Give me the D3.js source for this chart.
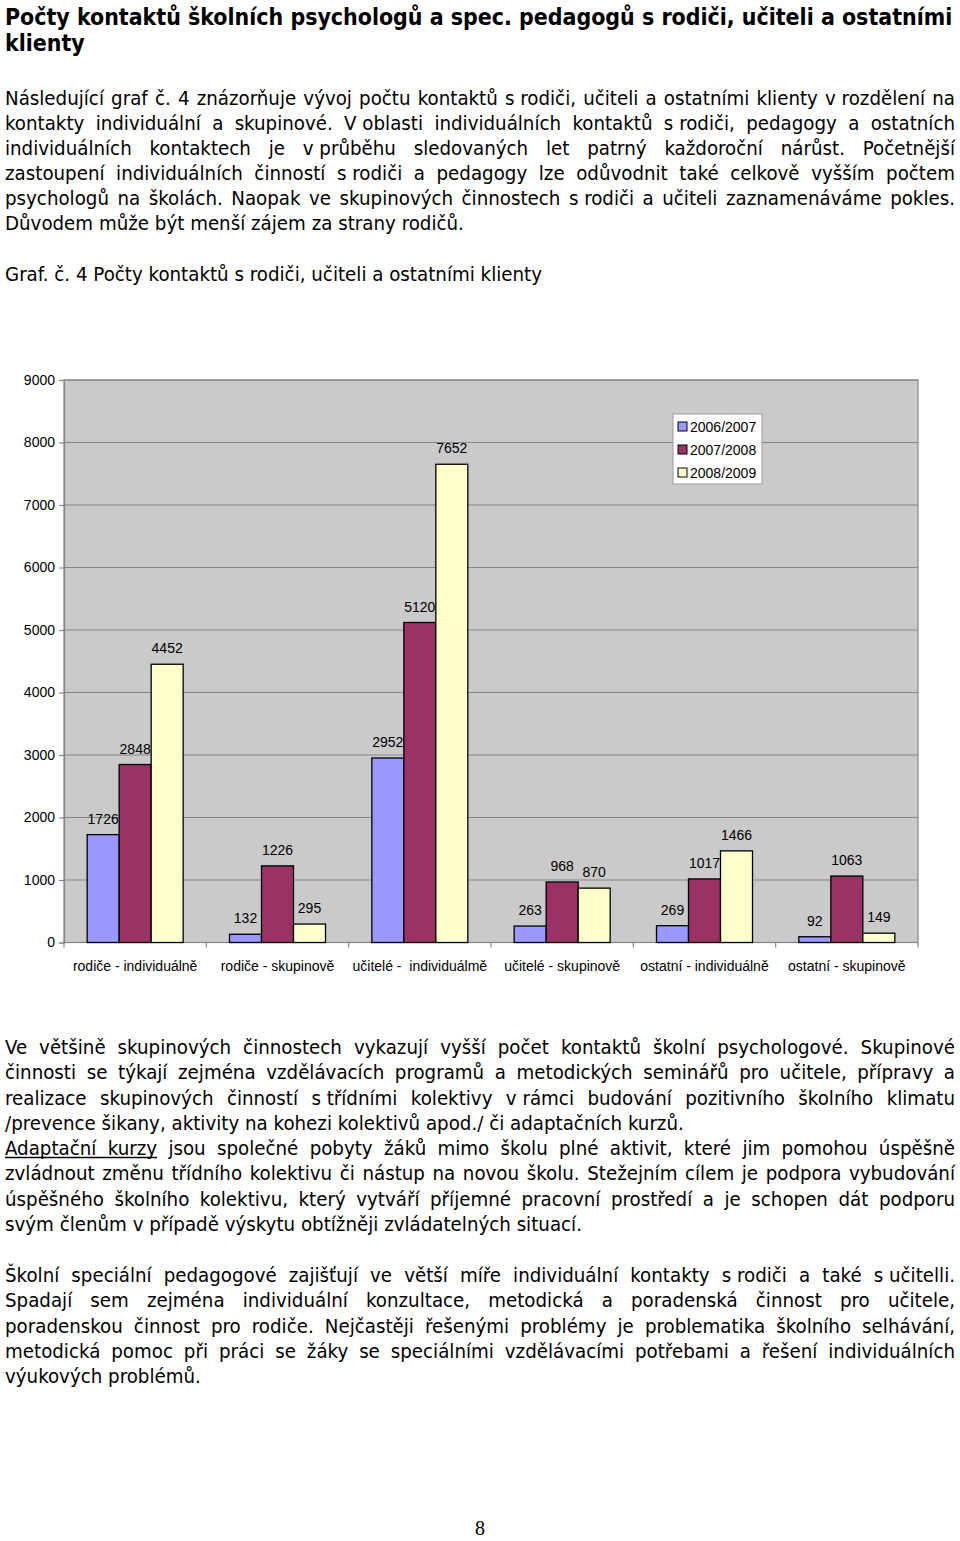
<!DOCTYPE html>
<html><head><meta charset="utf-8">
<script src="https://cdn.jsdelivr.net/npm/d3@7"></script>
<style>
html,body{margin:0;padding:0;background:#fff;}
svg{display:block;}
</style></head><body>
<svg id="page" width="960" height="1541"></svg>
<script>
// ---------- DATA ----------
const categories = ["rodiče - individuálně", "rodiče - skupinově", "učitelé -  individuálmě", "učitelé - skupinově", "ostatní - individuálně", "ostatní - skupinově"];
const seriesNames = ["2006/2007", "2007/2008", "2008/2009"];
const values0607 = [1726, 132, 2952, 263, 269, 92];
const values0708 = [2848, 1226, 5120, 968, 1017, 1063];
const values0809 = [4452, 295, 7652, 870, 1466, 149];
const yTicks = [0, 1000, 2000, 3000, 4000, 5000, 6000, 7000, 8000, 9000];
const seriesColors = ["#9999ff", "#993366", "#ffffcc"];

const titleLines = [
  "Počty kontaktů školních psychologů a spec. pedagogů s rodiči, učiteli a ostatními",
  "klienty"
];
const para1 = [
  "Následující graf č. 4 znázorňuje vývoj počtu kontaktů s\u00a0rodiči, učiteli a ostatními klienty v\u00a0rozdělení na",
  "kontakty individuální a skupinové. V\u00a0oblasti individuálních kontaktů s\u00a0rodiči, pedagogy a ostatních",
  "individuálních kontaktech je v\u00a0průběhu sledovaných let patrný každoroční nárůst. Početnější",
  "zastoupení individuálních činností s\u00a0rodiči a pedagogy lze odůvodnit také celkově vyšším počtem",
  "psychologů na školách. Naopak ve skupinových činnostech s\u00a0rodiči a učiteli zaznamenáváme pokles.",
  "Důvodem může být menší zájem za strany rodičů."
];
const chartCaption = "Graf. č. 4 Počty kontaktů s rodiči, učiteli a ostatními klienty";
const para2 = [
  "Ve většině skupinových činnostech vykazují vyšší počet kontaktů školní psychologové. Skupinové",
  "činnosti se týkají zejména vzdělávacích programů a metodických seminářů pro učitele, přípravy a",
  "realizace skupinových činností s\u00a0třídními kolektivy v\u00a0rámci budování pozitivního školního klimatu",
  "/prevence šikany, aktivity na kohezi kolektivů apod./ či adaptačních kurzů.",
  "Adaptační kurzy jsou společné pobyty žáků mimo školu plné aktivit, které jim pomohou úspěšně",
  "zvládnout změnu třídního kolektivu či nástup na novou školu. Stežejním cílem je podpora vybudování",
  "úspěšného školního kolektivu, který vytváří příjemné pracovní prostředí a je schopen dát podporu",
  "svým členům v\u00a0případě výskytu obtížněji zvládatelných situací."
];
const para3 = [
  "Školní speciální pedagogové zajišťují ve větší míře individuální kontakty s\u00a0rodiči a také s\u00a0učitelli.",
  "Spadají sem zejména individuální konzultace, metodická a poradenská činnost pro učitele,",
  "poradenskou činnost pro rodiče. Nejčastěji řešenými problémy je problematika školního selhávání,",
  "metodická pomoc při práci se žáky se speciálními vzdělávacími potřebami a řešení individuálních",
  "výukových problémů."
];
const pageNumber = "8";

// ---------- PAGE ----------
const svg = d3.select("#page");

function hasFont(name) {
  const c = document.createElement("canvas").getContext("2d");
  const s = "abcdefghijklmnopqrstuvwxyzčřů";
  c.font = "40px monospace";
  const a = c.measureText(s).width;
  c.font = `40px "${name}", monospace`;
  const b = c.measureText(s).width;
  return Math.abs(a - b) > 0.5;
}
const bodyFamily = hasFont("DejaVu Sans Condensed") ? "'DejaVu Sans Condensed', 'DejaVu Sans', sans-serif" : "'DejaVu Sans', sans-serif";

function fitSize(family, weight, str, target) {
  const t = svg.append("text").attr("font-family", family).attr("font-weight", weight)
    .attr("font-size", 100).text(str);
  const w = t.node().getComputedTextLength();
  t.remove();
  return 100 * target / w;
}
const bodySize = fitSize(bodyFamily, "normal", para1[5], 459);
const titleSize = fitSize(bodyFamily, "bold", titleLines[0], 948);

function spaceWidth(family, weight, size) {
  const t = svg.append("text").attr("font-family", family).attr("font-weight", weight).attr("font-size", size);
  t.text("a\u00a0a"); const w1 = t.node().getComputedTextLength();
  t.text("aa"); const w2 = t.node().getComputedTextLength();
  t.remove();
  return w1 - w2;
}

function textLine(str, baseline, justify, opts) {
  const left = 5, width = 950;
  const g = svg.append("g")
    .attr("font-family", opts.family).attr("font-weight", opts.weight)
    .attr("font-size", opts.size).attr("fill", "#000");
  const words = str.split(" ");
  const nodes = words.map(w => g.append("text").attr("y", baseline).text(w));
  const widths = nodes.map(n => n.node().getComputedTextLength());
  const sp = spaceWidth(opts.family, opts.weight, opts.size);
  const gap = justify && words.length > 1 ? (width - d3.sum(widths)) / (words.length - 1) : sp;
  let cx = left;
  const xs = [];
  nodes.forEach((n, i) => { n.attr("x", cx); xs.push(cx); cx += widths[i] + gap; });
  if (opts.underline) {
    const k = opts.underline;
    g.append("line").attr("x1", xs[0]).attr("x2", xs[k - 1] + widths[k - 1])
      .attr("y1", baseline + 2.5).attr("y2", baseline + 2.5)
      .attr("stroke", "#000").attr("stroke-width", 1.3);
  }
}

function paragraph(lines, firstBaseline, step, lastLeft, extra) {
  lines.forEach((l, i) => {
    const isLast = lastLeft.includes(i);
    const o = Object.assign({ family: bodyFamily, weight: "normal", size: bodySize }, (extra && extra[i]) || {});
    textLine(l, firstBaseline + i * step, !isLast, o);
  });
}

// title
titleLines.forEach((l, i) => textLine(l, 25 + i * 26, false, { family: bodyFamily, weight: "bold", size: titleSize }));
paragraph(para1, 105, 25, [5]);
textLine(chartCaption, 281, false, { family: bodyFamily, weight: "normal", size: bodySize });
paragraph(para2, 1054, 25.25, [3, 7], { 4: { underline: 2 } });
paragraph(para3, 1282, 25.25, [4]);

svg.append("text").attr("x", 480).attr("y", 1535).attr("text-anchor", "middle")
  .attr("font-family", "'Liberation Serif', 'DejaVu Serif', serif").attr("font-size", 20)
  .text(pageNumber);

// ---------- CHART ----------
const plot = { left: 64, right: 918, top: 380, bottom: 942.5 };
const chartFont = "'Liberation Sans', Arial, sans-serif";
const x0 = d3.scaleBand().domain(categories).range([plot.left, plot.right]);
const x1 = d3.scaleBand().domain(seriesNames).range([0, x0.bandwidth()]).paddingInner(0).paddingOuter(0.724);
const y = d3.scaleLinear().domain([0, 9000]).range([plot.bottom, plot.top]);
const color = d3.scaleOrdinal().domain(seriesNames).range(seriesColors);
const seriesValues = [values0607, values0708, values0809];

const chart = svg.append("g");
chart.append("rect")
  .attr("x", plot.left).attr("y", plot.top)
  .attr("width", plot.right - plot.left).attr("height", plot.bottom - plot.top)
  .attr("fill", "#cacaca").attr("stroke", "#858585").attr("stroke-width", 1.2);

chart.append("g").selectAll("line").data(yTicks.slice(1)).join("line")
  .attr("x1", plot.left).attr("x2", plot.right)
  .attr("y1", d => y(d)).attr("y2", d => y(d))
  .attr("stroke", "#858585").attr("stroke-width", 1.2);

const yAxis = chart.append("g").attr("transform", `translate(${plot.left},0)`)
  .call(d3.axisLeft(y).tickValues(yTicks).tickSize(5).tickPadding(4).tickFormat(d3.format("d")));
yAxis.selectAll("path,line").attr("stroke", "#858585").attr("stroke-width", 1.2);
yAxis.selectAll("text").attr("font-family", chartFont).attr("font-size", 14).attr("fill", "#000");

// x axis
const xa = chart.append("g");
xa.append("line").attr("x1", plot.left).attr("x2", plot.right)
  .attr("y1", plot.bottom).attr("y2", plot.bottom)
  .attr("stroke", "#858585").attr("stroke-width", 1.2);
xa.selectAll("line.tick").data(categories.map(c => x0(c)).concat([plot.right])).join("line")
  .attr("class", "tick")
  .attr("x1", d => d).attr("x2", d => d)
  .attr("y1", plot.bottom).attr("y2", plot.bottom + 5)
  .attr("stroke", "#858585").attr("stroke-width", 1.2);
xa.selectAll("text").data(categories).join("text")
  .attr("x", c => x0(c) + x0.bandwidth() / 2).attr("y", 971)
  .attr("text-anchor", "middle").attr("font-family", chartFont).attr("font-size", 14)
  .attr("xml:space", "preserve").style("white-space", "pre")
  .text(c => c);

// bars
seriesNames.forEach((s, si) => {
  const g = chart.append("g");
  g.selectAll("rect").data(seriesValues[si]).join("rect")
    .attr("x", (v, i) => x0(categories[i]) + x1(s))
    .attr("y", v => y(v))
    .attr("width", x1.bandwidth())
    .attr("height", v => y(0) - y(v))
    .attr("fill", color(s)).attr("stroke", "#000").attr("stroke-width", 1.3);
  g.selectAll("text").data(seriesValues[si]).join("text")
    .attr("x", (v, i) => x0(categories[i]) + x1(s) + x1.bandwidth() / 2)
    .attr("y", v => y(v) - 11)
    .attr("text-anchor", "middle").attr("font-family", chartFont).attr("font-size", 14)
    .text(v => v);
});

// legend
const lg = chart.append("g").attr("transform", "translate(673,414)");
lg.append("rect").attr("width", 89).attr("height", 70).attr("fill", "#fff").attr("stroke", "#999").attr("stroke-width", 1);
seriesNames.forEach((s, i) => {
  const row = lg.append("g").attr("transform", `translate(5,${12.5 + i * 23})`);
  row.append("rect").attr("x", 0).attr("y", -4.5).attr("width", 9).attr("height", 9)
    .attr("fill", color(s)).attr("stroke", "#000").attr("stroke-width", 1);
  row.append("text").attr("x", 12).attr("y", 5).attr("font-family", chartFont).attr("font-size", 14).text(s);
});
</script>
</body></html>
